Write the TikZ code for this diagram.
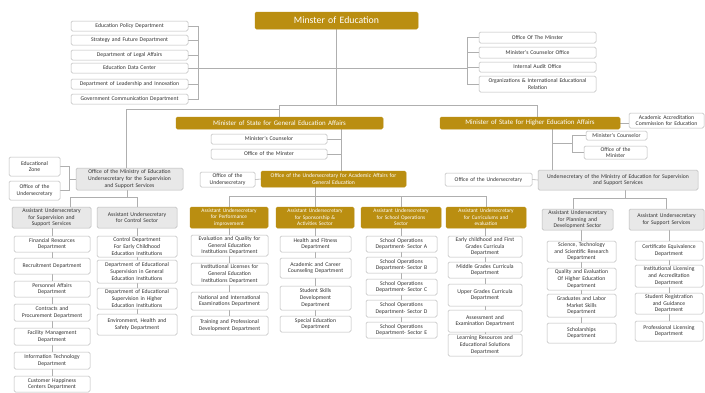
\documentclass[tikz,border=0pt]{standalone}
\usepackage{fontspec}
\setmainfont{Carlito}
\usetikzlibrary{calc}
\pgfdeclarelayer{bg}
\pgfsetlayers{bg,main}
\definecolor{gold}{RGB}{186,142,17}
\definecolor{lnc}{RGB}{175,175,175}
\definecolor{bdc}{RGB}{185,185,185}
\definecolor{gfill}{RGB}{232,232,232}
\newcommand\mkbox[7]{%
  \pgfmathsetmacro\myBW{#4-#2}\pgfmathsetmacro\myBH{#5-#3}%
  \pgfmathsetmacro\myCX{(#2+#4)/2}\pgfmathsetmacro\myCY{(#3+#5)/2}%
  \pgfmathsetmacro\myTW{#4-#2-2}%
  \node[#6, minimum width=\myBW pt, minimum height=\myBH pt, text width=\myTW pt] (#1) at (\myCX,\myCY) {#7};}
\tikzset{
  base/.style={rounded corners=1.5pt, inner xsep=1pt, inner ysep=0pt, align=center, text=black!80,
    font=\fontsize{5.7}{6.6}\selectfont, line width=0.5pt},
  leaf/.style={base, draw=bdc, fill=white},
  grayb/.style={base, draw=bdc, fill=gfill},
  goldb/.style={base, draw=gold, fill=gold, text=white},
  hdr/.style={goldb, font=\fontsize{5.4}{6.4}\selectfont},
  conn/.style={draw=lnc, line width=0.6pt},
}
\begin{document}
\begin{tikzpicture}[x=1pt,y=-1pt]
\useasboundingbox (0,0) rectangle (705,392);
% top
\mkbox{moe}{255}{12}{418}{29}{goldb,font=\fontsize{9.8}{11}\selectfont}{Minster of Education}
\mkbox{epd}{71}{21}{188}{31}{leaf}{Education Policy Department}
\mkbox{sfd}{71}{35}{188}{45}{leaf}{Strategy and Future Department}
\mkbox{dla}{71}{50}{188}{60}{leaf}{Department of Legal Affairs}
\mkbox{edc}{71}{63}{188}{73}{leaf}{Education Data Center}
\mkbox{dli}{71}{79}{188}{89}{leaf}{Department of Leadership and Innovation}
\mkbox{gcd}{71}{94}{188}{104}{leaf}{Government Communication Department}
\mkbox{otm}{479}{32}{596}{43}{leaf}{Office Of The Minster}
\mkbox{mco}{479}{47}{596}{58}{leaf}{Minister's Counselor Office}
\mkbox{iao}{479}{62}{596}{72}{leaf}{Internal Audit Office}
\mkbox{oie}{479}{76}{596}{92}{leaf}{Organizations \& International Educational\\Relation}
% state ministers
\mkbox{smg}{176}{117}{383}{129}{goldb,font=\fontsize{6.9}{8}\selectfont}{Minister of State for General Education Affairs}
\mkbox{smh}{440}{117}{620}{129}{goldb,font=\fontsize{6.9}{8}\selectfont}{Minister of State for Higher Education Affairs}
\mkbox{aac}{629}{113}{704}{128}{leaf}{Academic Accreditation\\Commission for Education}
% general education branch
\mkbox{mcg}{211}{134}{327}{144}{leaf}{Minister's Counselor}
\mkbox{omg}{211}{149}{327}{159}{leaf}{Office of the Minster}
\mkbox{oug}{200}{172}{255}{187}{leaf}{Office of the\\Undersecretary}
\mkbox{uag}{261}{171}{406}{187}{goldb}{Office of the Undersecretary for Academic Affairs for\\General Education}
% left gray branch
\mkbox{ez}{9}{157}{60}{176}{leaf}{Educational\\Zone}
\mkbox{ou0}{9}{181}{60}{200}{leaf}{Office of the\\Undersecretary}
\mkbox{lg}{76}{168}{183}{190}{grayb}{Office of the Ministry of Education\\Undersecretary for the Supervision\\and Support Services}
\mkbox{as}{12}{207}{91}{228}{grayb}{Assistant Undersecretary\\for Supervision and\\Support Services}
\mkbox{cs}{97}{207}{177}{228}{grayb}{Assistant Undersecretary\\for Control Sector}
\mkbox{a1}{14}{236}{90}{252}{leaf}{Financial Resources\\Department}
\mkbox{a2}{14}{258}{90}{274}{leaf}{Recruitment Department}
\mkbox{a3}{14}{281}{90}{297}{leaf}{Personnel Affairs\\Department}
\mkbox{a4}{14}{304}{90}{321}{leaf}{Contracts and\\Procurement Department}
\mkbox{a5}{14}{328}{90}{345}{leaf}{Facility Management\\Department}
\mkbox{a6}{14}{352}{90}{369}{leaf}{Information Technology\\Department}
\mkbox{a7}{14}{376}{90}{392}{leaf}{Customer Happiness\\Centers Department}
\mkbox{b1}{97}{236}{177}{257}{leaf}{Control Department\\For Early Childhood\\Education Institutions}
\mkbox{b2}{97}{260}{177}{283}{leaf}{Department of Educational\\Supervision in General\\Education Institutions}
\mkbox{b3}{97}{288}{177}{309}{leaf}{Department of Educational\\Supervision in Higher\\Education Institutions}
\mkbox{b4}{97}{314}{177}{335}{leaf}{Environment, Health and\\Safety Department}
% gold headers
\mkbox{pi}{190}{207}{268}{228}{hdr}{Assistant Undersecretary\\for Performance\\improvement}
\mkbox{sp}{276}{207}{354}{228}{hdr}{Assistant Undersecretary\\for Sponsorship \&\\Activities Sector}
\mkbox{so}{361}{207}{441}{228}{hdr}{Assistant Undersecretary\\for School Operations\\Sector}
\mkbox{ce}{446}{207}{526}{228}{hdr}{Assistant Undersecretary\\for Curriculums and\\evaluation}
\mkbox{p1}{191}{235}{268}{256}{leaf}{Evaluation and Quality for\\General Education\\Institutions Department}
\mkbox{p2}{191}{263}{268}{285}{leaf}{Institutional Licenses for\\General Education\\Institutions Department}
\mkbox{p3}{191}{292}{268}{310}{leaf}{National and International\\Examinations Department}
\mkbox{p4}{191}{316}{268}{335}{leaf}{Training and Professional\\Development Department}
\mkbox{s1}{280}{236}{351}{252}{leaf}{Health and Fitness\\Department}
\mkbox{s2}{280}{258}{351}{278}{leaf}{Academic and Career\\Counseling Department}
\mkbox{s3}{280}{286}{351}{310}{leaf}{Student Skills\\Development\\Department}
\mkbox{s4}{280}{316}{351}{332}{leaf}{Special Education\\Department}
\mkbox{o1}{366}{236}{437}{252}{leaf}{School Operations\\Department- Sector A}
\mkbox{o2}{366}{257}{437}{273}{leaf}{School Operations\\Department- Sector B}
\mkbox{o3}{366}{279}{437}{295}{leaf}{School Operations\\Department- Sector C}
\mkbox{o4}{366}{300}{437}{317}{leaf}{School Operations\\Department- Sector D}
\mkbox{o5}{366}{322}{437}{338}{leaf}{School Operations\\Department- Sector E}
\mkbox{e1}{448}{236}{522}{257}{leaf}{Early childhood and First\\Grades Curricula\\Department}
\mkbox{e2}{448}{262}{522}{278}{leaf}{Middle Grades Curricula\\Department}
\mkbox{e3}{448}{284}{522}{306}{leaf}{Upper Grades Curricula\\Department}
\mkbox{e4}{448}{310}{522}{332}{leaf}{Assessment and\\Examination Department}
\mkbox{e5}{448}{334}{522}{356}{leaf}{Learning Resources and\\Educational Solutions\\Department}
% higher education branch
\mkbox{mch}{586}{131}{647}{140}{leaf}{Minister's Counselor}
\mkbox{omh}{584}{146}{647}{159}{leaf}{Office of the\\Minister}
\mkbox{ouh}{445}{173}{532}{186}{leaf}{Office of the Undersecretary}
\mkbox{ugr}{538}{170}{698}{190}{grayb}{Undersecretary of the Ministry of Education for Supervision\\and Support Services}
\mkbox{pd}{542}{209}{613}{230}{grayb}{Assistant Undersecretary\\for Planning and\\Development Sector}
\mkbox{su}{629}{209}{704}{230}{grayb}{Assistant Undersecretary\\for Support Services}
\mkbox{d1}{547}{241}{616}{262}{leaf}{Science, Technology\\and Scientific Research\\Department}
\mkbox{d2}{547}{268}{616}{290}{leaf}{Quality and Evaluation\\Of Higher Education\\Department}
\mkbox{d3}{547}{294}{616}{317}{leaf}{Graduates and Labor\\Market Skills\\Department}
\mkbox{d4}{547}{323}{616}{343}{leaf}{Scholarships\\Department}
\mkbox{u1}{635}{241}{703}{260}{leaf}{Certificate Equivalence\\Department}
\mkbox{u2}{635}{265}{703}{287}{leaf}{Institutional Licensing\\and Accreditation\\Department}
\mkbox{u3}{635}{293}{703}{314}{leaf}{Student Registration\\and Guidance\\Department}
\mkbox{u4}{635}{321}{703}{341}{leaf}{Professional Licensing\\Department}
% connectors
\begin{pgfonlayer}{bg}
\fill[white] (0,0) rectangle (705,392);
\coordinate (jt) at (337,106);
\coordinate (jl) at (280,109);
\draw[conn] (moe.south) -- (moe.south |- jt);
\draw[conn] (smg.north) -- ++(0,-11) -| ([xshift=7pt]smh.north);
\draw[conn] ([xshift=-3.5pt]lg.north) |- (jl);
\draw[conn] (epd.east) -- ++(10,0) |- (gcd.east);
\foreach \n in {sfd,dla,dli} \draw[conn] (\n.east) -- ++(10,0);
\coordinate (rb) at ([xshift=-11pt]iao.west);
\draw[conn] (edc.east) -- (edc.east -| rb);
\draw[conn] (otm.west) -- ++(-11,0) |- (oie.west);
\foreach \n in {mco,iao} \draw[conn] (\n.west) -- ++(-11,0);
% general
\coordinate (vg) at ([xshift=61.5pt]smg.south);
\draw[conn] (vg) -- (vg |- uag.north);
\draw[conn] (mcg.east) -- (mcg.east -| vg);
\draw[conn] (omg.east) -- (omg.east -| vg);
\draw[conn] (oug.east) -- (uag.west);
\draw[conn] (sp.north) -- (sp.north |- uag.south);
\draw[conn] (pi.north) -- ++(0,-10) -| (ce.north);
\draw[conn] (so.north) -- ++(0,-10);
\draw[conn] (p1.north |- pi.south) -- (p4.north);
\draw[conn] (s1.north |- sp.south) -- (s4.north);
\draw[conn] (o1.north |- so.south) -- (o5.north);
\draw[conn] (e1.north |- ce.south) -- (e5.north);
% left gray
\draw[conn] (ez.east) -- ++(9,0) |- (ou0.east);
\draw[conn] (lg.west) -- ++(-7,0);
\draw[conn] ([xshift=-2.5pt]lg.south) -- ++(0,8);
\draw[conn] ([xshift=18.5pt]as.north) -- ++(0,-9) -| (cs.north);
\draw[conn] (a1.north |- as.south) -- (a7.north);
\draw[conn] (b1.north |- cs.south) -- (b4.north);
% higher
\coordinate (vh) at ([xshift=22pt]smh.south);
\draw[conn] (vh) -- (vh |- ugr.north);
\draw[conn] (smh.east) -- (smh.east -| aac.west);
\draw[conn] (mch.west) -- ++(-13,0) |- (omh.west);
\coordinate (rbk) at ([xshift=-13pt]mch.west);
\coordinate (rj) at (552,143);
\draw[conn] (rj) -- (rj -| rbk);
\draw[conn] (ouh.east) -- (ugr.west);
\draw[conn] ([xshift=7pt]ugr.south) -- ++(0,9);
\draw[conn] ([xshift=-4.5pt]pd.north) -- ++(0,-10) -| (su.north);
\draw[conn] (d1.north |- pd.south) -- (d4.north);
\draw[conn] (u1.north |- su.south) -- (u4.north);
\end{pgfonlayer}
\end{tikzpicture}
\end{document}
